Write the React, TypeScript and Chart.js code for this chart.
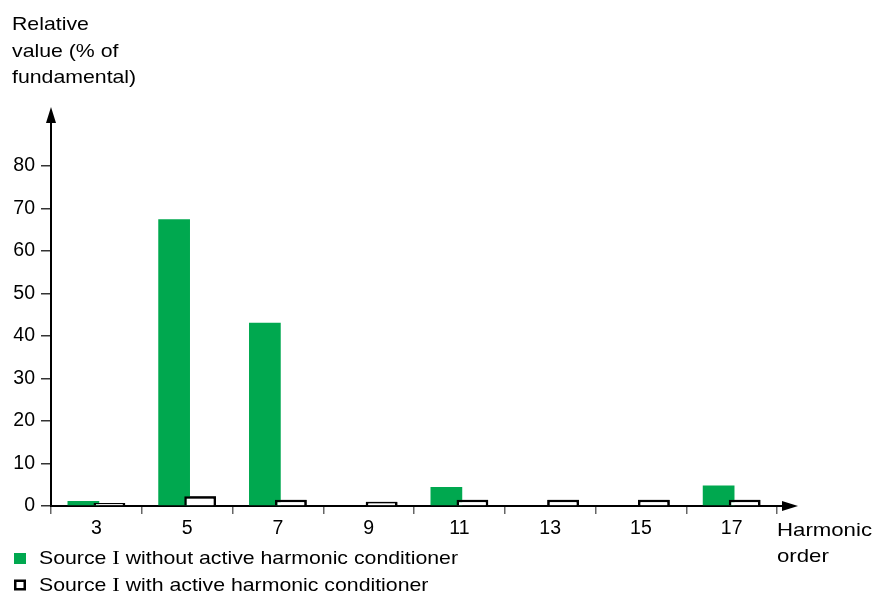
import React, { useEffect, useRef } from 'react';
import { Chart, registerables } from 'chart.js';

Chart.register(...registerables);

const categories = ['3', '5', '7', '9', '11', '13', '15', '17'];
const withoutConditioner: (number | null)[] = [1.2, 67.5, 43.1, null, 4.5, null, null, 4.8];
const withConditioner: (number | null)[] = [0.7, 2.3, 1.5, 1.0, 1.5, 1.5, 1.5, 1.5];
const yTicks = [0, 10, 20, 30, 40, 50, 60, 70, 80];
const seriesLabels = [
  'Source I without active harmonic conditioner',
  'Source I with active harmonic conditioner',
];
const yTitleLines = ['Relative', 'value (% of', 'fundamental)'];
const xTitleLines = ['Harmonic', 'order'];

const GREEN = '#00a84f';
const SANS = '"Liberation Sans", Arial, Helvetica, sans-serif';
const SERIF = '"Liberation Serif", "Times New Roman", serif';
const TEXT_STRETCH = 1.15;

function drawStretched(ctx: CanvasRenderingContext2D, text: string, x: number, y: number, sx: number) {
  ctx.save();
  ctx.translate(x, y);
  ctx.scale(sx, 1);
  ctx.fillText(text, 0, 0);
  ctx.restore();
  return ctx.measureText(text).width * sx;
}

const decorPlugin = {
  id: 'decor',
  afterDatasetsDraw(chart: any) {
    // white bars sit on top of the green ones
    const meta = chart.getDatasetMeta(1);
    const ctx = chart.ctx;
    ctx.save();
    meta.controller.draw();
    ctx.restore();
  },
  afterDraw(chart: any) {
    const { ctx, chartArea } = chart;
    const x0 = chartArea.left;
    const y0 = chartArea.bottom;
    ctx.save();
    ctx.strokeStyle = '#000';
    ctx.fillStyle = '#000';
    ctx.lineWidth = 2;
    // y axis extension + arrow
    ctx.beginPath();
    ctx.moveTo(x0, chartArea.top);
    ctx.lineTo(x0, 118);
    ctx.stroke();
    ctx.beginPath();
    ctx.moveTo(x0, 107);
    ctx.lineTo(x0 - 5, 123);
    ctx.lineTo(x0 + 5, 123);
    ctx.closePath();
    ctx.fill();
    // x axis extension + arrow
    ctx.beginPath();
    ctx.moveTo(chartArea.right, y0);
    ctx.lineTo(786, y0);
    ctx.stroke();
    ctx.beginPath();
    ctx.moveTo(798, y0);
    ctx.lineTo(782, y0 - 5);
    ctx.lineTo(782, y0 + 5);
    ctx.closePath();
    ctx.fill();

    ctx.font = `18.5px ${SANS}`;
    ctx.textAlign = 'left';
    ctx.textBaseline = 'alphabetic';
    yTitleLines.forEach((t, i) => drawStretched(ctx, t, 12, 30 + i * 26.5, TEXT_STRETCH));
    drawStretched(ctx, xTitleLines[0], 777, 536, 1.2);
    drawStretched(ctx, xTitleLines[1], 777, 562, 1.2);

    // legend
    const rows = [564, 590.5];
    seriesLabels.forEach((label, i) => {
      const base = rows[i];
      if (i === 0) {
        ctx.fillStyle = GREEN;
        ctx.fillRect(14, base - 11, 12, 11);
      } else {
        ctx.fillStyle = '#fff';
        ctx.fillRect(14, base - 11, 12, 11);
        ctx.strokeStyle = '#000';
        ctx.lineWidth = 2.5;
        ctx.strokeRect(15.25, base - 9.75, 9.5, 8.5);
      }
      ctx.fillStyle = '#000';
      const idx = label.indexOf(' I ');
      const p1 = label.slice(0, idx + 1);
      const p2 = 'I';
      const p3 = label.slice(idx + 2);
      let x = 39;
      ctx.font = `18.5px ${SANS}`;
      x += drawStretched(ctx, p1, x, base, TEXT_STRETCH);
      ctx.font = `19.5px ${SERIF}`;
      x += drawStretched(ctx, p2, x, base, TEXT_STRETCH);
      ctx.font = `18.5px ${SANS}`;
      drawStretched(ctx, p3, x, base, TEXT_STRETCH);
    });
    ctx.restore();
  },
};

export default function App() {
  const canvasRef = useRef<HTMLCanvasElement | null>(null);

  useEffect(() => {
    const canvas = canvasRef.current;
    if (!canvas) return;
    const chart = new Chart(canvas, {
      type: 'bar',
      data: {
        labels: categories,
        datasets: [
          {
            label: seriesLabels[0],
            data: withoutConditioner,
            backgroundColor: GREEN,
            borderWidth: 0,
            categoryPercentage: 0.573,
            barPercentage: 1.22,
          },
          {
            label: seriesLabels[1],
            data: withConditioner,
            backgroundColor: '#ffffff',
            borderColor: '#000000',
            borderWidth: 2.5,
            categoryPercentage: 0.573,
            barPercentage: 1.22,
          },
        ],
      },
      options: {
        animation: false,
        responsive: true,
        maintainAspectRatio: false,
        layout: { padding: { top: 166, right: 97, left: 0, bottom: 0 } },
        plugins: {
          legend: { display: false },
          tooltip: { enabled: false },
          title: { display: false },
        },
        scales: {
          x: {
            type: 'category',
            offset: true,
            grid: {
              display: true,
              drawOnChartArea: false,
              drawTicks: true,
              tickLength: 8,
              color: '#666',
              lineWidth: 1.5,
              offset: true,
            },
            border: { display: true, color: '#000', width: 2 },
            ticks: {
              color: '#000',
              font: { family: SANS, size: 19.5 },
              padding: 3,
              maxRotation: 0,
              autoSkip: false,
            },
            afterFit: (s: any) => {
              s.height = 88;
            },
          },
          y: {
            min: 0,
            max: 80,
            afterBuildTicks: (s: any) => {
              s.ticks = yTicks.map((v) => ({ value: v }));
            },
            grid: {
              display: true,
              drawOnChartArea: false,
              drawTicks: true,
              tickLength: 10,
              color: '#333',
              lineWidth: 1.5,
            },
            border: { display: true, color: '#000', width: 2 },
            ticks: {
              color: '#000',
              font: { family: SANS, size: 19.5 },
              padding: 6,
            },
            afterFit: (s: any) => {
              s.width = 51;
            },
          },
        },
      },
      plugins: [decorPlugin],
    });
    return () => chart.destroy();
  }, []);

  return (
    <div style={{ position: 'absolute', left: 0, top: 0, width: 874, height: 594, background: '#fff' }}>
      <canvas ref={canvasRef} />
    </div>
  );
}
